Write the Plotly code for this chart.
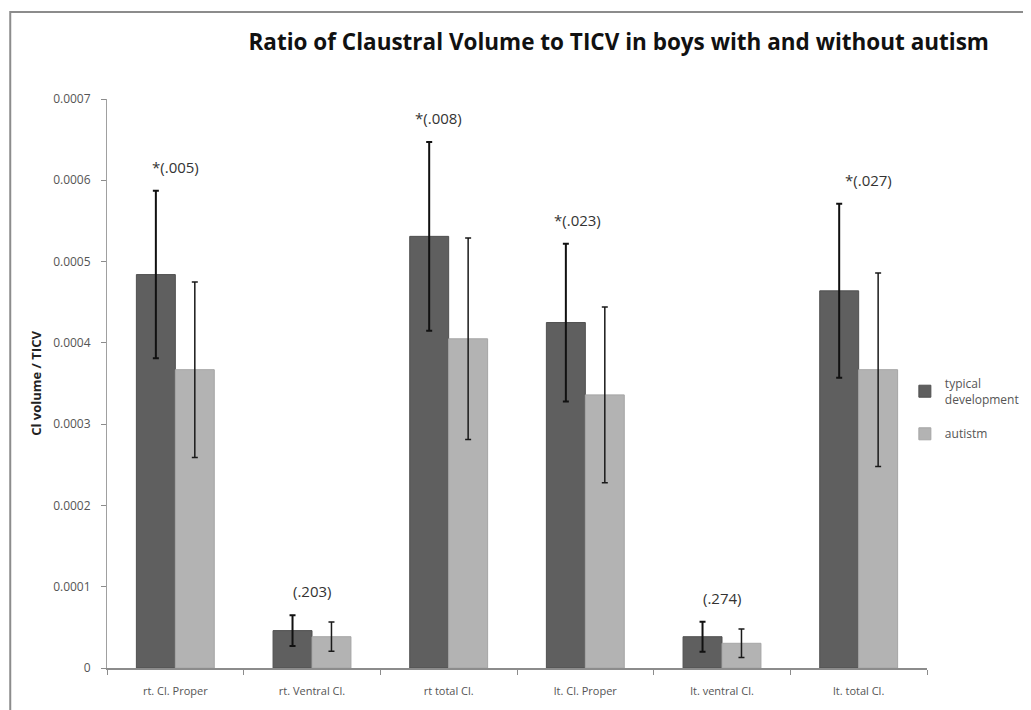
import plotly.graph_objects as go

categories = ["rt. Cl. Proper", "rt. Ventral Cl.", "rt total Cl.", "lt. Cl. Proper", "lt. ventral Cl.", "lt. total Cl."]
typical = [0.000484, 0.0000460, 0.000531, 0.000425, 0.0000385, 0.000464]
typical_err = [0.000103, 0.0000190, 0.000116, 0.000097, 0.0000185, 0.000107]
autism = [0.000367, 0.0000385, 0.000405, 0.000336, 0.0000304, 0.000367]
autism_err = [0.000108, 0.0000180, 0.000124, 0.000108, 0.0000175, 0.000119]
p_labels = ["*(.005)", "(.203)", "*(.008)", "*(.023)", "(.274)", "*(.027)"]
y_ticks = [0, 0.0001, 0.0002, 0.0003, 0.0004, 0.0005, 0.0006, 0.0007]
y_tick_text = ["0", "0.0001", "0.0002", "0.0003", "0.0004", "0.0005", "0.0006", "0.0007"]

# layout-only nudges for the p-value labels (pixels)
label_xshift = [0, 0, -10, -8, 0, 10]

font_family = "'Open Sans', sans-serif"

fig = go.Figure()
fig.add_trace(go.Bar(
    x=categories, y=typical, name="typical<br>development", legendgroup="td",
    marker=dict(color="#5f5f5f", line=dict(color="#505050", width=1)),
    error_y=dict(type="data", array=typical_err, visible=True, color="#111111", thickness=2, width=3),
))
fig.add_trace(go.Bar(
    x=categories, y=autism, name="autistm", legendgroup="au",
    marker=dict(color="#b3b3b3", line=dict(color="#a6a6a6", width=1)),
    error_y=dict(type="data", array=autism_err, visible=True, color="#1a1a1a", thickness=1.5, width=3),
))

for cat, t, e, lab, xs in zip(categories, typical, typical_err, p_labels, label_xshift):
    fig.add_annotation(
        x=cat, y=t + e, text=lab, showarrow=False, yanchor="bottom", yshift=12, xshift=xs,
        font=dict(family=font_family, size=15, color="#333333"),
    )

fig.update_layout(
    width=1023, height=702,
    margin=dict(l=99, r=104, t=91, b=42, autoexpand=False),
    paper_bgcolor="white", plot_bgcolor="white",
    barmode="group", bargap=0.43, bargroupgap=0,
    title=dict(
        text="<b>Ratio of Claustral Volume to TICV in boys with and without autism</b>",
        x=0.597, xanchor="center", y=0.952, yanchor="middle",
        font=dict(family=font_family, size=22.5, color="#111111"),
    ),
    legend=dict(
        x=0.973, xanchor="left", y=0.455, yanchor="middle",
        font=dict(family=font_family, size=12, color="#555555"),
        itemwidth=30, tracegroupgap=16,
        bgcolor="rgba(0,0,0,0)",
    ),
    xaxis=dict(
        showline=True, linecolor="#8c8c8c", linewidth=1.5,
        ticks="outside", tickson="boundaries", ticklen=5, tickcolor="#8c8c8c",
        tickfont=dict(family=font_family, size=11, color="#555555"),
        ticklabelstandoff=12,
        showgrid=False,
    ),
    yaxis=dict(
        range=[0, 0.0007], tickvals=y_ticks, ticktext=y_tick_text,
        showline=True, linecolor="#a0a0a0", linewidth=1,
        ticks="outside", ticklen=5, tickcolor="#8c8c8c",
        tickfont=dict(family=font_family, size=12, color="#555555"),
        ticklabelstandoff=8,
        showgrid=False, zeroline=False,
        title=dict(text="<b>Cl volume / TICV</b>", font=dict(family=font_family, size=13, color="#222222"), standoff=8),
    ),
    shapes=[dict(
        type="rect", xref="paper", yref="paper",
        x0=-0.118, x1=1.3, y0=-0.2, y1=1.153,
        line=dict(color="#8c8c8c", width=2), fillcolor="rgba(0,0,0,0)", layer="below",
    )],
)

fig.write_html("out.html")
